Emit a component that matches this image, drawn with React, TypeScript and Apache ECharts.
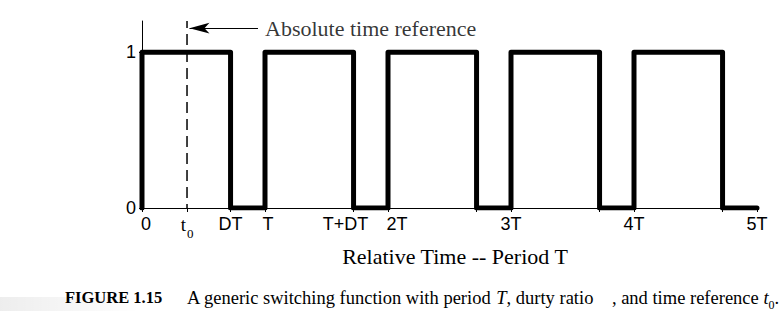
import React, { useEffect, useRef } from "react";
import * as echarts from "echarts";

const SERIF = "Liberation Serif";
const SANS = "Liberation Sans";

// Duty ratio D = 0.72, five periods, time reference t0
const t0 = 0.366;

// Switching waveform vertices (time in periods, value 0/1)
const waveform: [number, number][] = [
  [0, 0], [0, 1], [0.72, 1], [0.72, 0],
  [1, 0], [1, 1], [1.72, 1], [1.72, 0],
  [2, 0], [2, 1], [2.72, 1], [2.72, 0],
  [3, 0], [3, 1], [3.72, 1], [3.72, 0],
  [4, 0], [4, 1], [4.72, 1], [4.72, 0],
  [5, 0],
];

const tickValues = [0, 0.366, 0.72, 1, 1.72, 2, 2.72, 3, 3.72, 4, 4.72, 5];
const labelValues = [0, 0.366, 0.72, 1, 1.72, 2, 3, 4, 5];
const labelTexts = [
  "{p0|0}", "{t|t}{s|0}", "DT", "{p1|T}", "{pl|T+DT}", "{pr|2T}", "3T", "4T", "5T",
];
const yLabelValues = [0, 1];

const arrowY = 1.154;
const arrowStartX = 0.943;
const arrowText = "Absolute time reference";
const axisName = "Relative Time -- Period T";

export default function App() {
  const ref = useRef<HTMLDivElement>(null);
  useEffect(() => {
    if (!ref.current) return;
    const chart = echarts.init(ref.current, null, { renderer: "svg" });
    chart.setOption({
      animation: false,
      backgroundColor: "#ffffff",
      grid: { left: 142, right: 27, top: 21, bottom: 103 },
      xAxis: {
        type: "value",
        min: 0,
        max: 5,
        splitLine: { show: false },
        axisLine: { show: true, onZero: false, lineStyle: { color: "#000", width: 1 } },
        axisTick: {
          show: true,
          customValues: tickValues,
          length: 4,
          lineStyle: { color: "#000", width: 1 },
        },
        axisLabel: {
          customValues: labelValues,
          margin: 7,
          color: "#000",
          fontFamily: SANS,
          fontSize: 18,
          formatter: (v: number) => {
            const i = labelValues.findIndex((x) => Math.abs(x - v) < 1e-6);
            return i >= 0 ? labelTexts[i] : "";
          },
          rich: {
            p0: { fontFamily: SANS, fontSize: 18, padding: [0, 0, 0, 8] },
            p1: { fontFamily: SANS, fontSize: 18, padding: [0, 0, 0, 6] },
            pl: { fontFamily: SANS, fontSize: 18, padding: [0, 16, 0, 0] },
            pr: { fontFamily: SANS, fontSize: 18, padding: [0, 0, 0, 18] },
            t: { fontFamily: SERIF, fontSize: 19, verticalAlign: "bottom" },
            s: { fontFamily: SERIF, fontSize: 13, verticalAlign: "bottom", padding: [0, 0, -6, 1] },
          },
        },
        name: axisName,
        nameLocation: "middle",
        nameGap: 37,
        nameTextStyle: {
          fontFamily: SERIF,
          fontSize: 22,
          color: "#000",
          padding: [0, 0, 0, 11],
        },
      },
      yAxis: {
        type: "value",
        min: 0,
        max: 1.2,
        splitLine: { show: false },
        axisLine: { show: true, lineStyle: { color: "#000", width: 1 } },
        axisTick: { show: true, customValues: yLabelValues, length: 3, lineStyle: { color: "#000" } },
        axisLabel: {
          customValues: yLabelValues,
          margin: 6,
          color: "#000",
          fontFamily: SANS,
          fontSize: 18,
        },
      },
      series: [
        {
          type: "line",
          data: waveform,
          symbol: "none",
          lineStyle: { color: "#000", width: 5, join: "round", cap: "round" },
          z: 3,
        },
        {
          type: "line",
          data: [[t0, -0.045], [t0, 1.2]],
          symbol: "none",
          lineStyle: { color: "#000", width: 1.5, type: [11, 6] },
          z: 2,
          markLine: {
            silent: true,
            symbol: ["none", "arrow"],
            symbolSize: [8, 20],
            label: { show: false },
            lineStyle: { color: "#000", width: 1, type: "solid" },
            data: [[{ coord: [arrowStartX, arrowY] }, { coord: [t0 + 0.02, arrowY] }]],
          },
        },
        {
          type: "scatter",
          data: [[arrowStartX, arrowY]],
          symbolSize: 0,
          label: {
            show: true,
            position: "right",
            distance: 7,
            formatter: arrowText,
            fontFamily: SERIF,
            fontSize: 22,
            color: "#000",
          },
        },
      ],
      graphic: [
        {
          type: "rect",
          left: 0,
          top: 297,
          shape: { width: 140, height: 14 },
          style: {
            fill: new echarts.graphic.LinearGradient(0, 0, 1, 0, [
              { offset: 0, color: "rgba(0,0,0,0.07)" },
              { offset: 1, color: "rgba(0,0,0,0)" },
            ]),
          },
          silent: true,
        },
        {
          type: "text",
          left: 65,
          top: 288,
          style: {
            text:
              "{b|FIGURE 1.15}A generic switching function with period {i|T}, durty ratio    , and time reference {i|t}{sub|0}.",
            fontFamily: SERIF,
            fontSize: 18.5,
            fill: "#000",
            rich: {
              b: { fontFamily: SERIF, fontSize: 16.5, fontWeight: "bold", width: 122 },
              i: { fontFamily: SERIF, fontSize: 18.5, fontStyle: "italic" },
              sub: { fontFamily: SERIF, fontSize: 12, verticalAlign: "bottom", padding: [0, 0, -4, 0] },
            },
          },
        },
      ],
    });
    return () => chart.dispose();
  }, []);
  return (
    <div
      ref={ref}
      style={{ position: "fixed", left: 0, top: 0, width: 784, height: 311 }}
    />
  );
}
